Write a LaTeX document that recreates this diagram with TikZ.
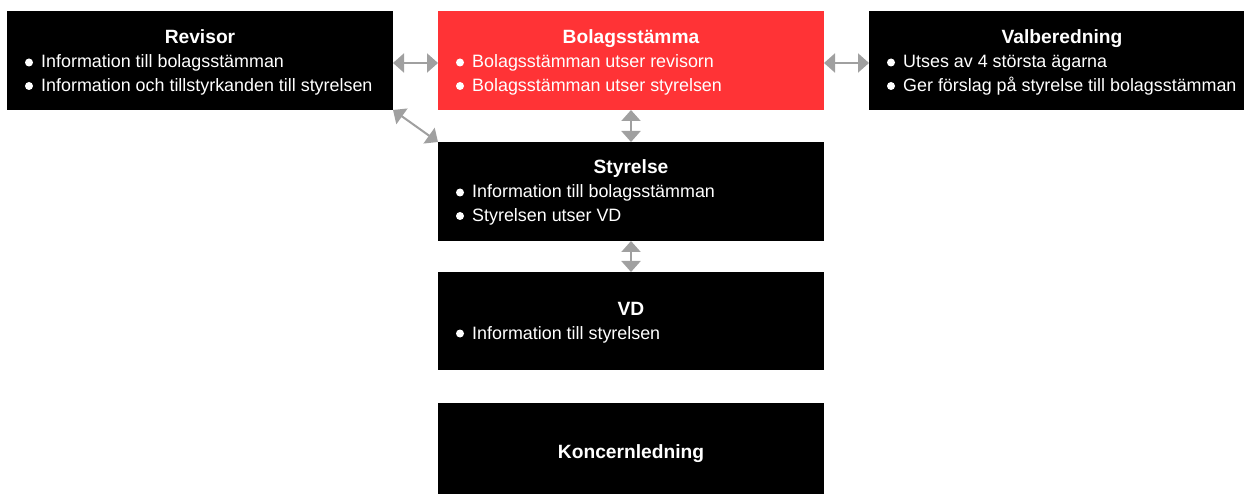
\documentclass[tikz,border=0pt]{standalone}
\usepackage{fontspec}
\setmainfont{Liberation Sans}
\usetikzlibrary{arrows.meta}
\definecolor{bgred}{RGB}{255,51,54}
\definecolor{arrgray}{RGB}{160,160,160}
\begin{document}
\begin{tikzpicture}[x=1pt,y=-1pt,
 box/.style={draw=none, fill=black, minimum width=386pt, minimum height=99pt, anchor=north west, inner sep=0pt, outer sep=0pt},
 ttl/.style={text=white, font=\fontsize{19.2}{20}\selectfont\bfseries, anchor=base, inner sep=0pt},
 itm/.style={text=white, font=\fontsize{17.9}{20}\selectfont, anchor=base west, inner sep=0pt},
 arr/.style={draw=arrgray, line width=2pt, {Triangle[length=11pt,width=19pt]}-{Triangle[length=11pt,width=19pt]}}]
\useasboundingbox (0,0) rectangle (1244,494);
\fill[white] (0,0) rectangle (1244,494);
% boxes
\node[box] (rev) at (7,11) {};
\node[box, fill=bgred] (bol) at (438,11) {};
\node[box, minimum width=375pt] (val) at (869,11) {};
\node[box] (sty) at (438,142) {};
\node[box, minimum height=98pt] (vd) at (438,272) {};
\node[box, minimum height=91pt] (kon) at (438,403) {};
% Revisor
\node[ttl] (revt) at (200,44) {Revisor};
\fill[white] (29,62.5) circle (4pt);
\node[itm] (rev1) at (41,68) {Information till bolagsstämman};
\fill[white] (29,86) circle (4pt);
\node[itm] (rev2) at (41,91.5) {Information och tillstyrkanden till styrelsen};
% Bolagsstamma
\node[ttl] (bolt) at (631,44) {Bolagsstämma};
\fill[white] (460,62.5) circle (4pt);
\node[itm] (bol1) at (472,68) {Bolagsstämman utser revisorn};
\fill[white] (460,86) circle (4pt);
\node[itm] (bol2) at (472,91.5) {Bolagsstämman utser styrelsen};
% Valberedning
\node[ttl] (valt) at (1062,44) {Valberedning};
\fill[white] (891,62.5) circle (4pt);
\node[itm] (val1) at (903,68) {Utses av 4 största ägarna};
\fill[white] (891,86) circle (4pt);
\node[itm] (val2) at (903,91.5) {Ger förslag på styrelse till bolagsstämman};
% Styrelse
\node[ttl] (styt) at (631,174) {Styrelse};
\fill[white] (460,192.5) circle (4pt);
\node[itm] (sty1) at (472,198) {Information till bolagsstämman};
\fill[white] (460,216) circle (4pt);
\node[itm] (sty2) at (472,221.5) {Styrelsen utser VD};
% VD
\node[ttl] (vdt) at (631,315) {VD};
\fill[white] (460,333.5) circle (4pt);
\node[itm] (vd1) at (472,339) {Information till styrelsen};
% Koncernledning
\node[ttl] (kont) at (631,458.5) {Koncernledning};
% arrows
\draw[arr] ([yshift=-2.5pt]rev.east) -- ([yshift=-2.5pt]bol.west);
\draw[arr] ([yshift=-2.5pt]bol.east) -- ([yshift=-2.5pt]val.west);
\draw[arr] (bol.south) -- (sty.north);
\draw[arr] (sty.south) -- (vd.north);
\draw[arr] (rev.south east) -- (sty.north west);
\end{tikzpicture}
\end{document}
